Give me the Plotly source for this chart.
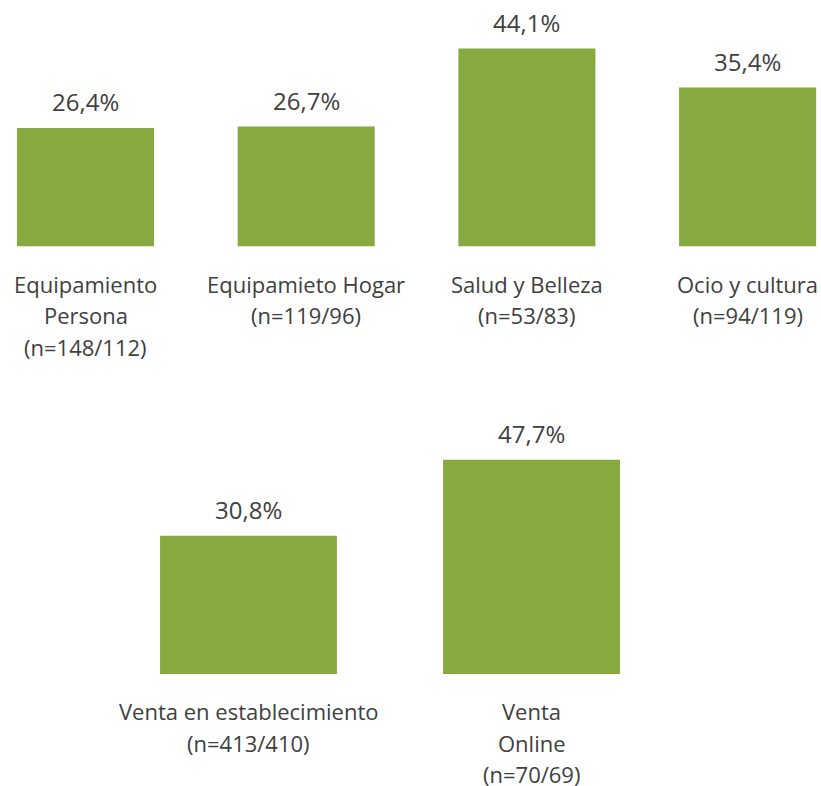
import plotly.graph_objects as go

top_labels = ["Equipamiento\nPersona\n(n=148/112)", "Equipamieto Hogar\n(n=119/96)",
              "Salud y Belleza\n(n=53/83)", "Ocio y cultura\n(n=94/119)"]
top_values = [26.4, 26.7, 44.1, 35.4]
bot_labels = ["Venta en establecimiento\n(n=413/410)", "Venta\nOnline\n(n=70/69)"]
bot_values = [30.8, 47.7]

BAR = "#86AA3F"
TXT = "#404040"
FONT = "Open Sans"
OFF = 0
W, H = 821 - OFF, 786 - OFF
PPU = 4.49  # pixels per percentage unit

fig = go.Figure()
fig.add_trace(go.Bar(x=list(range(len(top_values))), y=top_values, width=0.621,
                     marker=dict(color=BAR, line=dict(width=0)), xaxis="x", yaxis="y",
                     hoverinfo="skip"))
fig.add_trace(go.Bar(x=list(range(len(bot_values))), y=bot_values, width=0.625,
                     marker=dict(color=BAR, line=dict(width=0)), xaxis="x2", yaxis="y2",
                     hoverinfo="skip"))

def fmt(v):
    return f"{v:.1f}".replace(".", ",") + "%"

ann = []
for xr, yr, labels, values in [("x", "y", top_labels, top_values), ("x2", "y2", bot_labels, bot_values)]:
    for i, (lab, v) in enumerate(zip(labels, values)):
        ann.append(dict(x=i, y=v, xref=xr, yref=yr, text=fmt(v), showarrow=False,
                        yanchor="middle", yshift=26, font=dict(family=FONT, size=24, color=TXT)))
        for j, line in enumerate(lab.split("\n")):
            ann.append(dict(x=i, y=0, xref=xr, yref=yr, text=line, showarrow=False,
                            yanchor="middle", yshift=-(37 + 31.5 * j), borderpad=0,
                            font=dict(family=FONT, size=22, color=TXT)))

top_base = 246.5 - OFF
bot_base = 674 - OFF
bot_top = 393 - OFF
hide = dict(visible=False, fixedrange=True)
fig.update_layout(
    width=W, height=H, margin=dict(l=0, r=0, t=0, b=0, pad=0),
    paper_bgcolor="white", plot_bgcolor="white", showlegend=False,
    xaxis=dict(domain=[0, 1], range=[(0 - (85.5 - OFF)) / 220.7, (W - (85.5 - OFF)) / 220.7], **hide),
    yaxis=dict(domain=[(H - top_base) / H, 1], range=[0, top_base / PPU], **hide),
    xaxis2=dict(domain=[0, 1], range=[(0 - (248.5 - OFF)) / 283, (W - (248.5 - OFF)) / 283], anchor="y2", **hide),
    yaxis2=dict(domain=[(H - bot_base) / H, (H - bot_top) / H], range=[0, (bot_base - bot_top) / PPU],
                anchor="x2", **hide),
    annotations=ann,
)
fig.write_html("out.html", config={"displayModeBar": False},
               post_script="document.body.style.margin='0';document.body.style.overflow='hidden';")
